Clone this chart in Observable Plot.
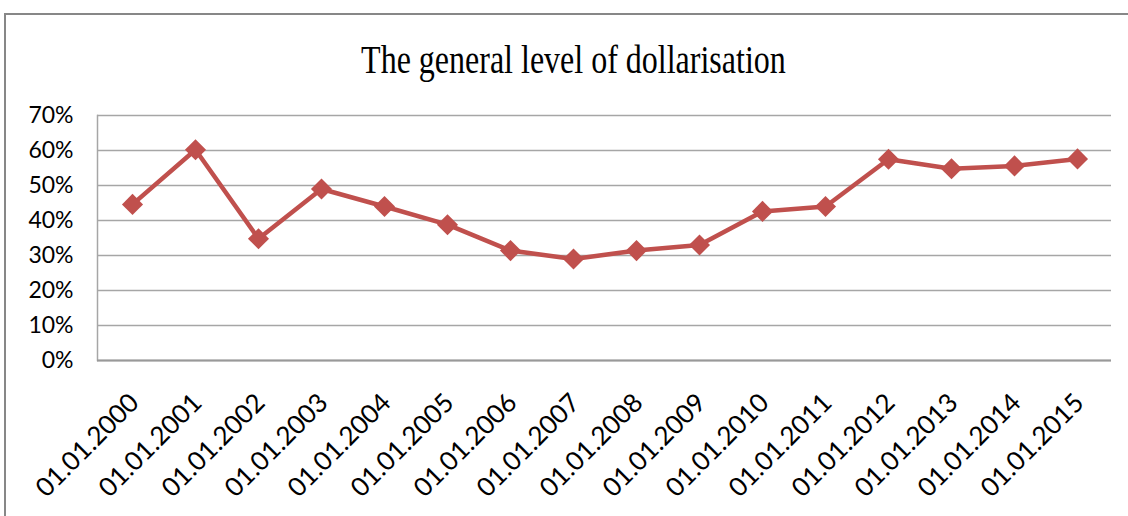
<!DOCTYPE html>
<html>
<head>
<meta charset="utf-8">
<script src="https://cdn.jsdelivr.net/npm/d3@7"></script>
<script src="https://cdn.jsdelivr.net/npm/@observablehq/plot@0.6"></script>
<style>
  body { margin: 0; background: #fff; }
  #wrap { position: relative; width: 1128px; height: 516px; overflow: hidden; background: #fff; }
  #box { position: absolute; left: 4px; top: 13px; width: 1200px; height: 600px;
         border-top: 2px solid #878787; border-left: 2px solid #878787; }
  #title { position: absolute; left: 0; width: 1147px; top: 40px; text-align: center;
           font-family: "Liberation Serif", serif; font-size: 40px; line-height: 40px; color: #000; }
  #title span { display: inline-block; transform: scaleX(0.8); transform-origin: center; white-space: nowrap; }
  #chart { position: absolute; left: 0; top: 100px; }
</style>
</head>
<body>
<div id="wrap">
  <div id="box"></div>
  <div id="title"><span>The general level of dollarisation</span></div>
  <div id="chart"></div>
</div>
<script>
const titleText = "The general level of dollarisation";
const dates = ["01.01.2000","01.01.2001","01.01.2002","01.01.2003","01.01.2004","01.01.2005",
               "01.01.2006","01.01.2007","01.01.2008","01.01.2009","01.01.2010","01.01.2011",
               "01.01.2012","01.01.2013","01.01.2014","01.01.2015"];
const levels = [0.446, 0.602, 0.348, 0.490, 0.440, 0.388, 0.314, 0.290, 0.314, 0.330,
                0.426, 0.440, 0.575, 0.548, 0.556, 0.576];
const yTicks = [0, 0.1, 0.2, 0.3, 0.4, 0.5, 0.6, 0.7];

const data = dates.map((d, i) => ({date: d, value: levels[i]}));
const red = "#C0504D";

const chart = Plot.plot({
  width: 1128,
  height: 416,
  marginTop: 15,
  marginBottom: 156,
  marginLeft: 97,
  marginRight: 17,
  style: { fontFamily: "Lato, sans-serif", fontSize: "23px", color: "#000", background: "transparent" },
  x: { type: "point", domain: dates, padding: 0.5, axis: null, label: null },
  y: { domain: [0, 0.7], axis: null, label: null },
  marks: [
    Plot.gridY(yTicks, { stroke: "#a6a6a6", strokeOpacity: 1, strokeWidth: 1.5 }),
    Plot.frame({ anchor: "left", stroke: "#a6a6a6", strokeWidth: 1.5 }),
    Plot.ruleY([0], { stroke: "#999", strokeWidth: 2 }),
    Plot.axisY(yTicks, { tickFormat: d3.format(".0%"), tickSize: 0, tickPadding: 24, fontSize: 23, fill: "#000", label: null }),
    Plot.text(dates, { x: d => d, frameAnchor: "bottom", rotate: -45, textAnchor: "end",
                       lineAnchor: "middle", dx: 2, dy: 38, fontSize: 26, fill: "#000" }),
    Plot.line(data, { x: "date", y: "value", stroke: red, strokeWidth: 4.5 }),
    Plot.dot(data, { x: "date", y: "value", symbol: "diamond2", r: 9.5, fill: red, stroke: "none" })
  ]
});
document.getElementById("chart").appendChild(chart);
</script>
</body>
</html>
